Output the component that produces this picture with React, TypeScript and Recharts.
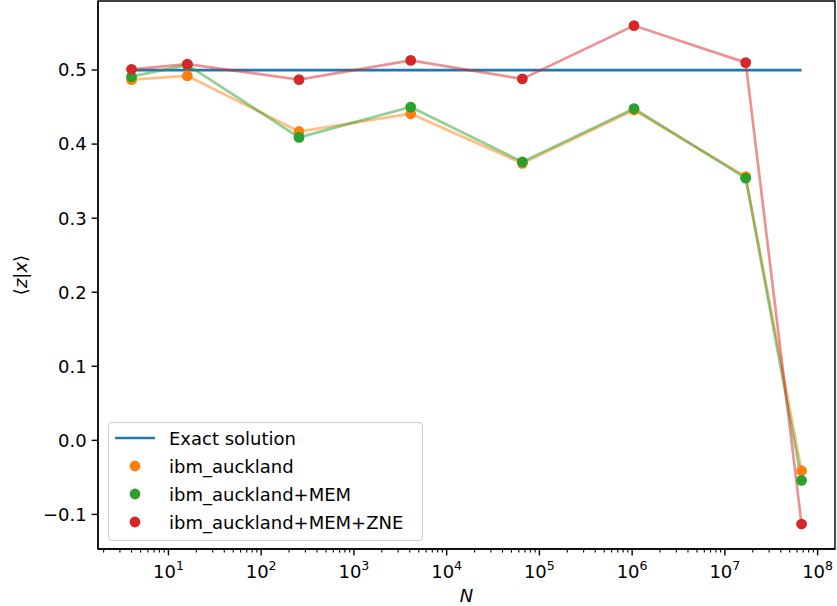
import { ComposedChart, Line, XAxis, YAxis, ReferenceArea, Legend } from "recharts";

// system sizes N and measured expectation values
const nValues = [4, 16, 256, 4096, 65536, 1048576, 16777216, 67108864];
const exactSolution = [0.5, 0.5, 0.5, 0.5, 0.5, 0.5, 0.5, 0.5];
const auckland = [0.487, 0.492, 0.417, 0.441, 0.374, 0.446, 0.356, -0.041];
const aucklandMem = [0.491, 0.507, 0.409, 0.45, 0.376, 0.448, 0.354, -0.054];
const aucklandMemZne = [0.501, 0.508, 0.487, 0.513, 0.488, 0.56, 0.51, -0.113];

const yTicks = [-0.1, 0.0, 0.1, 0.2, 0.3, 0.4, 0.5];
const xMajorTicks = [1e1, 1e2, 1e3, 1e4, 1e5, 1e6, 1e7, 1e8];

const xDomain = [1.74, 1.54e8];
const yDomain = [-0.1467, 0.5932];

const FONT = "DejaVu Sans, sans-serif";

const series = [
  { key: "exact", name: "Exact solution", color: "#1f77b4", kind: "line" },
  { key: "auckland", name: "ibm_auckland", color: "#ff7f0e", kind: "dot" },
  { key: "mem", name: "ibm_auckland+MEM", color: "#2ca02c", kind: "dot" },
  { key: "zne", name: "ibm_auckland+MEM+ZNE", color: "#d62728", kind: "dot" },
];

const data = nValues.map((n, i) => ({
  n,
  exact: exactSolution[i],
  auckland: auckland[i],
  mem: aucklandMem[i],
  zne: aucklandMemZne[i],
}));

// minor ticks at 2..9 x 10^k inside the domain
const xTicks: number[] = [];
for (let k = 0; k <= 8; k++) {
  for (let m = 1; m <= 9; m++) {
    const v = m * Math.pow(10, k);
    if (v >= xDomain[0] && v <= xDomain[1]) xTicks.push(v);
  }
}

const XTick = (props: any) => {
  const { x, y, payload } = props;
  const v = payload.value;
  const exp = Math.round(Math.log10(v));
  const major = xMajorTicks.includes(v);
  return (
    <g>
      <line
        x1={x}
        x2={x}
        y1={y}
        y2={y + (major ? 6.4 : 3.6)}
        stroke="#000"
        strokeWidth={major ? 1.4 : 1.1}
      />
      {major && (
        <text x={x} y={y + 29} textAnchor="middle" fontSize={18} fill="#000" fontFamily={FONT}>
          10
          <tspan dy={-8} fontSize={12.6}>
            {exp}
          </tspan>
        </text>
      )}
    </g>
  );
};

const fmtY = (v: number) => (v < 0 ? "\u2212" : "") + Math.abs(v).toFixed(1);

const YLabel = (props: any) => {
  const vb = props.viewBox;
  const cx = vb.x + 20;
  const cy = vb.y + vb.height / 2;
  return (
    <text
      x={cx}
      y={cy}
      transform={`rotate(-90, ${cx}, ${cy})`}
      textAnchor="middle"
      dominantBaseline="central"
      fontSize={18}
      fill="#000"
      fontFamily={FONT}
    >
      {"\u27e8"}
      <tspan fontStyle="italic">z</tspan>|<tspan fontStyle="italic">x</tspan>
      {"\u27e9"}
    </text>
  );
};

const XLabel = (props: any) => {
  const vb = props.viewBox;
  return (
    <text
      x={vb.x + vb.width / 2}
      y={vb.y + 53}
      textAnchor="middle"
      fontSize={18}
      fontStyle="italic"
      fill="#000"
      fontFamily={FONT}
    >
      N
    </text>
  );
};

const LegendBox = () => (
  <div
    style={{
      border: "1px solid #cccccc",
      borderRadius: 4,
      background: "rgba(255,255,255,0.8)",
      boxSizing: "border-box",
      width: 315,
      padding: "1px 0 4px",
      fontFamily: FONT,
      fontSize: 18,
      color: "#000",
    }}
  >
    {series.map((s) => (
      <div key={s.key} style={{ display: "flex", alignItems: "center", height: 28 }}>
        <svg width={60} height={28} style={{ flex: "none" }}>
          {s.kind === "line" ? (
            <line x1={6} x2={46} y1={14} y2={14} stroke={s.color} strokeWidth={2.7} />
          ) : (
            <circle cx={26} cy={14} r={5.4} fill={s.color} />
          )}
        </svg>
        <span style={{ whiteSpace: "nowrap" }}>{s.name}</span>
      </div>
    ))}
  </div>
);

export default function App() {
  return (
    <div style={{ position: "absolute", left: 0, top: 0 }}>
      <ComposedChart
        width={837}
        height={606}
        data={data}
        margin={{ top: 1, right: 2, left: 0, bottom: 0 }}
        style={{ fontFamily: FONT }}
      >
        <XAxis
          dataKey="n"
          type="number"
          scale="log"
          domain={xDomain}
          allowDataOverflow
          ticks={xTicks}
          interval={0}
          tick={<XTick />}
          tickSize={0}
          tickMargin={0}
          tickLine={false}
          axisLine={{ stroke: "#000", strokeWidth: 1.4 }}
          height={57}
          label={<XLabel />}
        />
        <YAxis
          type="number"
          domain={yDomain}
          allowDataOverflow
          ticks={yTicks}
          interval={0}
          tickFormatter={fmtY}
          tick={{ fill: "#000", fontSize: 18, fontFamily: FONT }}
          tickSize={6.4}
          tickMargin={5}
          tickLine={{ stroke: "#000", strokeWidth: 1.4 }}
          axisLine={{ stroke: "#000", strokeWidth: 1.4 }}
          width={98}
          label={<YLabel />}
        />
        <ReferenceArea
          x1={xDomain[0]}
          x2={xDomain[1]}
          y1={yDomain[0]}
          y2={yDomain[1]}
          fill="none"
          stroke="#000"
          strokeWidth={1.4}
          ifOverflow="visible"
        />
        <Line
          dataKey="exact"
          stroke="#1f77b4"
          strokeWidth={2.7}
          dot={false}
          activeDot={false}
          isAnimationActive={false}
        />
        {series.slice(1).map((s) => (
          <Line
            key={s.key}
            dataKey={s.key}
            name={s.name}
            stroke={s.color}
            strokeOpacity={0.5}
            strokeWidth={2.7}
            dot={{ r: 5.4, fill: s.color, stroke: "none", fillOpacity: 1 }}
            activeDot={false}
            isAnimationActive={false}
          />
        ))}
        <Legend
          verticalAlign="middle"
          content={<LegendBox />}
          wrapperStyle={{ left: 108, top: 422, width: 315 }}
        />
      </ComposedChart>
    </div>
  );
}
